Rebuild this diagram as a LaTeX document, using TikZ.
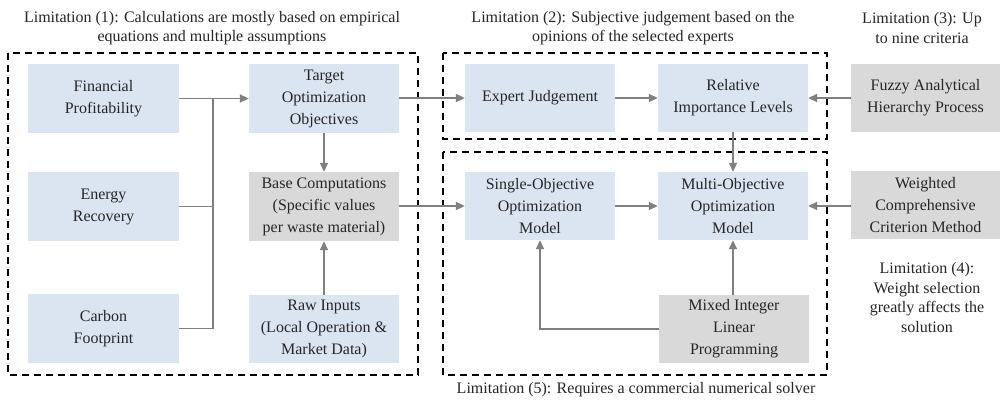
\documentclass[tikz,border=0pt]{standalone}
\usepackage{fontspec}
\setmainfont{Liberation Serif}
\usetikzlibrary{arrows.meta,calc}
\definecolor{boxblue}{HTML}{DBE4F1}
\definecolor{boxgray}{HTML}{D9D9D9}
\definecolor{linegray}{HTML}{808080}
\definecolor{txt}{HTML}{262626}
\begin{document}
\begin{tikzpicture}[x=1pt,y=-1pt,
  every node/.style={text=txt,font=\fontsize{16}{22}\selectfont},
  bbox/.style={rectangle,fill=boxblue,minimum width=150pt,minimum height=69pt,inner sep=0pt,align=center},
  gbox/.style={bbox,fill=boxgray},
  conn/.style={draw=linegray,line width=1.8pt},
  arr/.style={conn,-{Triangle[length=9pt,width=8pt]}},
  frame/.style={draw=black,line width=1.6pt,dash pattern=on 7pt off 5pt},
  lim/.style={align=center,inner sep=0pt,font=\fontsize{16}{19.5}\selectfont}]
\useasboundingbox (0,0) rectangle (1000,402);
\fill[white] (0,0) rectangle (1000,402);
% dashed frames
\draw[frame] (8,53) rectangle (418,375);
\draw[frame] (443,53) rectangle (827,139);
\draw[frame] (443,152) rectangle (827,375);
% boxes
\node[bbox,minimum width=151pt] (fin) at (103.5,98.5) {Financial\\Profitability};
\node[bbox,minimum width=151pt] (ene) at (103.5,206.5) {Energy\\Recovery};
\node[bbox,minimum width=151pt] (car) at (103.5,328.5) {Carbon\\Footprint};
\node[bbox] (tgt) at (324,98.5) {Target\\Optimization\\Objectives};
\node[gbox] (base) at (324,206.5) {Base Computations\\(Specific values\\per waste material)};
\node[bbox,minimum height=68pt] (raw) at (324,329) {Raw Inputs\\(Local Operation \&\\Market Data)};
\node[bbox,minimum height=68pt] (exp) at (540,98) {Expert Judgement};
\node[bbox,minimum height=68pt] (rel) at (733,98) {Relative\\Importance Levels};
\node[gbox,minimum width=149pt,minimum height=68pt] (fahp) at (925.5,98) {Fuzzy Analytical\\Hierarchy Process};
\node[bbox,minimum height=68pt] (single) at (540,206) {Single-Objective\\Optimization\\Model};
\node[bbox,minimum height=68pt] (multi) at (733,206) {Multi-Objective\\Optimization\\Model};
\node[gbox,minimum width=149pt,minimum height=68pt] (wcc) at (925.5,205) {Weighted\\Comprehensive\\Criterion Method};
\node[gbox,minimum height=68pt] (milp) at (734,329) {Mixed Integer\\Linear\\Programming};
% labels
\node[lim] (l1) at (212,28) {Limitation (1): Calculations are mostly based on empirical\\equations and multiple assumptions};
\node[lim] (l2) at (633,28) {Limitation (2): Subjective judgement based on the\\opinions of the selected experts};
\node[lim] (l3) at (922,28) {Limitation (3): Up\\to nine criteria};
\node[lim] (l4) at (927,297.5) {Limitation (4):\\Weight selection\\greatly affects the\\solution};
\node[lim] (l5) at (636,390) {Limitation (5): Requires a commercial numerical solver};
% connectors
\coordinate (j) at (213,98.5);
\draw[arr] (fin.east) -- (tgt.west);
\draw[conn] (car.east) -| (j);
\draw[conn] (ene.east) -- (ene.east -| j);
\draw[arr] (tgt.south) -- (base.north);
\draw[arr] (raw.north) -- (base.south);
\draw[arr] (tgt.east |- exp.west) -- (exp.west);
\draw[arr] (exp.east) -- (rel.west);
\draw[arr] (fahp.west) -- (rel.east);
\draw[arr] (rel.south) -- (multi.north);
\draw[arr] (base.east |- single.west) -- (single.west);
\draw[arr] (single.east) -- (multi.west);
\draw[arr] (wcc.west |- multi.east) -- (multi.east);
\draw[arr] (milp.north -| multi.south) -- (multi.south);
\draw[arr] (milp.west) -| (single.south);
\end{tikzpicture}
\end{document}
